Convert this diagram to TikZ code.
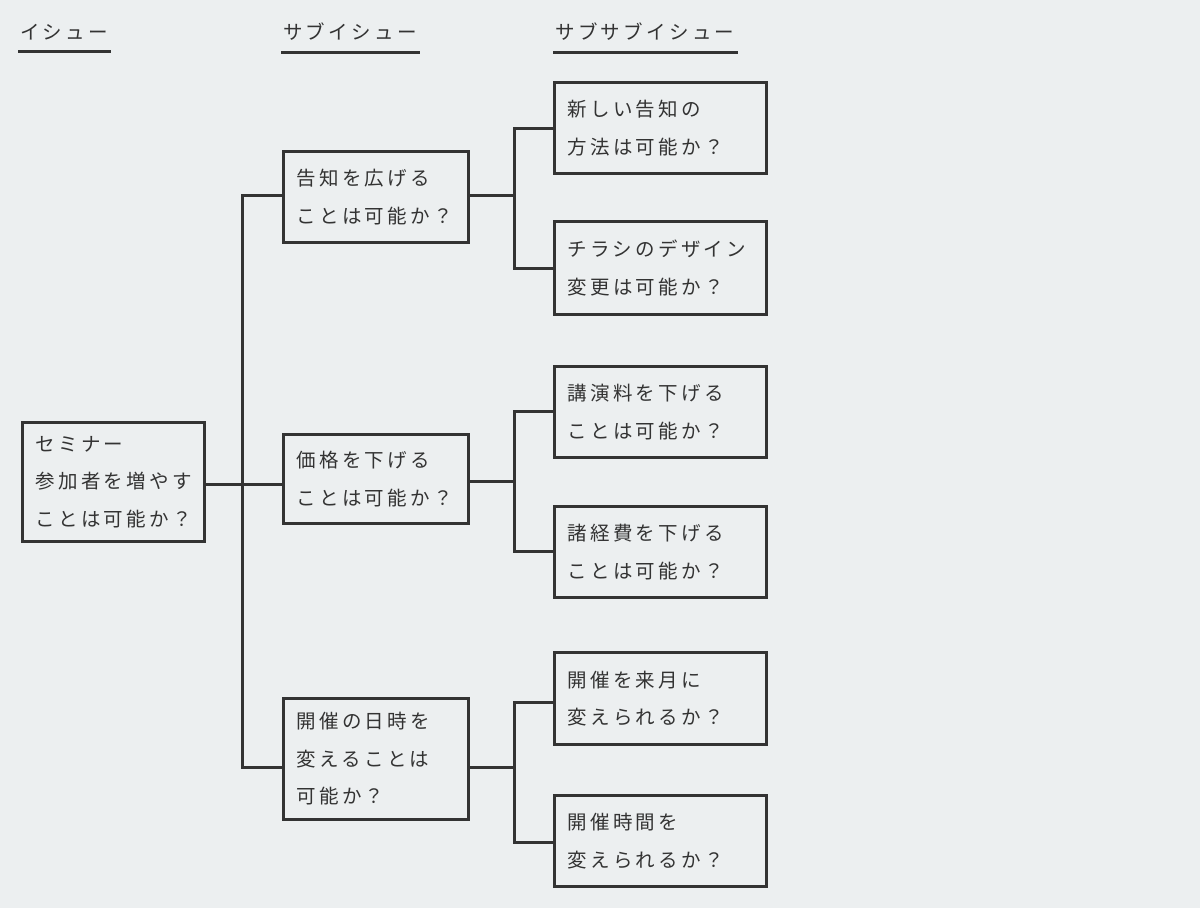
\documentclass[tikz,border=0pt]{standalone}
\usepackage{fontspec}
\setmainfont[LetterSpace=17]{Noto Sans CJK JP}
\usepackage{xcolor}
\definecolor{ink}{HTML}{333333}
\definecolor{paper}{HTML}{ECEFF0}

\tikzset{
    issue/.style={draw=ink, line width=3pt, anchor=north west, align=left,
        inner xsep=13pt, inner ysep=0pt, text=ink,
        font=\fontsize{19.5}{37.5}\selectfont},
    hdr/.style={anchor=west, inner sep=0pt, text=ink,
        font=\fontsize{19.5}{22}\selectfont},
    link/.style={draw=ink, line width=3pt, line cap=rect},
    rule/.style={draw=ink, line width=3pt}
}

\begin{document}
\begin{tikzpicture}[x=1pt,y=-1pt]
            \useasboundingbox[fill=paper] (0,0) rectangle (1200,908);
            \node[hdr] (hIssue) at (20,32) {イシュー};
            \node[hdr] (hSub) at (283,32) {サブイシュー};
            \node[hdr] (hSubSub) at (555,32) {サブサブイシュー};
            \foreach \h in {hIssue,hSub,hSubSub} {
                \draw[rule] ([xshift=-2pt,yshift=-11pt]\h.south west) -- ([xshift=3pt,yshift=-11pt]\h.south east);
            }
            \node[issue, text width=156pt, minimum height=119pt] (root) at (21,421) {セミナー\\参加者を増やす\\ことは可能か？};
            \node[issue, text width=159pt, minimum height=91pt] (m1) at (282,150) {告知を広げる\\ことは可能か？};
            \node[issue, text width=159pt, minimum height=89pt] (m2) at (282,433) {価格を下げる\\ことは可能か？};
            \node[issue, text width=159pt, minimum height=121pt] (m3) at (282,697) {開催の日時を\\変えることは\\可能か？};
            \node[issue, text width=186pt, minimum height=91pt] (s1) at (553,81) {新しい告知の\\方法は可能か？};
            \node[issue, text width=186pt, minimum height=93pt] (s2) at (553,220) {チラシのデザイン\\変更は可能か？};
            \node[issue, text width=186pt, minimum height=91pt] (s3) at (553,365) {講演料を下げる\\ことは可能か？};
            \node[issue, text width=186pt, minimum height=91pt] (s4) at (553,505) {諸経費を下げる\\ことは可能か？};
            \node[issue, text width=186pt, minimum height=92pt] (s5) at (553,651) {開催を来月に\\変えられるか？};
            \node[issue, text width=186pt, minimum height=91pt] (s6) at (553,794) {開催時間を\\変えられるか？};
            \coordinate (j0) at (242,484);
            \coordinate (j1) at (242,195);
            \coordinate (j3) at (242,767);
            \draw[link] (j1) -- (j3);
            \draw[link] (root.east |- j0) -- (m2.west |- j0);
            \draw[link] (j1) -- (m1.west |- j1);
            \draw[link] (j3) -- (m3.west |- j3);
            \foreach \m/\y/\a/\b/\u/\v in {m1/195/s1/s2/128/268, m2/481/s3/s4/411/551, m3/767/s5/s6/702/842} {
                \coordinate (kTop) at (514,\u);
                \coordinate (kBot) at (514,\v);
                \coordinate (kMid) at (514,\y);
                \draw[link] (\m.east |- kMid) -- (kMid);
                \draw[link] (kTop) -- (kBot);
                \draw[link] (kTop) -- (\a.west |- kTop);
                \draw[link] (kBot) -- (\b.west |- kBot);
            }
        \end{tikzpicture}
\end{document}
